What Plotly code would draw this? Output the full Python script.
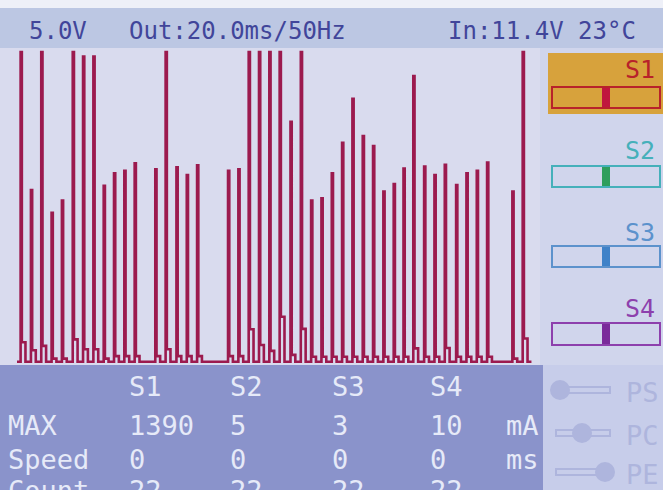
import plotly.graph_objects as go

# ---------------- data ----------------
# pulse start times (ms) in the 1000 ms capture window
pulse_t = [7, 27, 47, 67, 87, 108, 128, 148, 168, 188, 208, 228, 268, 288, 309,
           329, 349, 409, 429, 449, 469, 489, 509, 530, 550, 570, 590, 610, 630,
           650, 670, 690, 710, 730, 749, 768, 789, 809, 829, 851, 871, 891, 911,
           960, 980]
# pulse peak current (mA, display clips at 1000)
pulse_peak = [1000, 554, 1000, 481, 520, 1000, 985, 985, 568, 608, 616, 641, 621,
              1000, 628, 603, 634, 616, 621, 1000, 1000, 1000, 1000, 775, 1000,
              520, 528, 608, 707, 849, 729, 696, 549, 574, 624, 922, 630, 603,
              636, 570, 608, 616, 643, 549, 1000]
# residual current after each pulse (mA)
pulse_tail = [63, 37, 51, 10, 10, 72, 40, 40, 10, 18, 18, 18, 18, 40, 18, 18, 18,
              18, 18, 105, 54, 35, 145, 22, 106, 16, 16, 16, 16, 16, 16, 16, 16,
              16, 16, 43, 16, 16, 44, 16, 16, 16, 16, 10, 75]
capture_end = 997

header_left = "5.0V"
header_mid = "Out:20.0ms/50Hz"
header_right = "In:11.4V 23°C"

servos = ["S1", "S2", "S3", "S4"]
servo_pos = [0.5, 0.5, 0.5, 0.5]
row_labels = ["MAX", "Speed", "Count"]
max_ma = ["1390", "5", "3", "10"]
speed_ms = ["0", "0", "0", "0"]
count = ["22", "22", "22", "22"]
units = ["mA", "ms", ""]
modes = ["PS", "PC", "PE"]

# ---------------- geometry helpers ----------------
W, H = 663, 490
def px(x):
    return x / W
def py(y):
    return 1 - y / H

PULSE_W = 2.4
TAIL_W = 7.0

xs, ys = [0], [0]
for t, p, b in zip(pulse_t, pulse_peak, pulse_tail):
    xs += [t, t, t + PULSE_W, t + PULSE_W, t + PULSE_W + TAIL_W, t + PULSE_W + TAIL_W]
    ys += [0, p, p, b, b, 0]
xs.append(capture_end)
ys.append(0)

LINE = "#9c1a4e"
fig = go.Figure()
fig.add_trace(go.Scatter(x=xs, y=ys, mode="lines",
                         line=dict(color=LINE, width=2.6), hoverinfo="skip",
                         showlegend=False))

# x: t=0 at px 17, t=1000 at px 533 ; plot area px 0..540
sx = 516 / 1000.0
x_lo = -17 / sx
x_hi = (540 - 17) / sx
# y: 0 at px 361.7, 1000 at px 52 ; plot area px 48..365
sy = (361.7 - 52) / 1000.0
y_lo = -(365 - 361.7) / sy
y_hi = (361.7 - 48) / sy

fig.update_layout(
    width=W, height=H,
    margin=dict(l=0, r=0, t=0, b=0),
    paper_bgcolor="#d3d7ec",
    plot_bgcolor="#d9dbee",
    xaxis=dict(domain=[0, px(540)], range=[x_lo, x_hi], visible=False, fixedrange=True),
    yaxis=dict(domain=[py(365), py(48)], range=[y_lo, y_hi], visible=False, fixedrange=True),
    showlegend=False,
)

shapes = []
def rect(x0, y0, x1, y1, fill=None, line=None, lw=0, layer="below"):
    shapes.append(dict(type="rect", xref="paper", yref="paper",
                       x0=px(x0), x1=px(x1), y0=py(y1), y1=py(y0),
                       fillcolor=fill if fill else "rgba(0,0,0,0)",
                       line=dict(color=line if line else "rgba(0,0,0,0)", width=lw),
                       layer=layer))

# top white edge + header band
rect(0, 0, W, 8, fill="#eef0f8")
rect(0, 8, W, 48, fill="#bcc7e3")
# right panel
rect(540, 48, W, 365, fill="#d0d5ec")
# bottom panel
rect(0, 365, 543, H, fill="#8a93cb")
rect(543, 365, W, H, fill="#c7cdea")

# servo sliders on right
slider_cols = [("#b8222a", "#c0163e"), ("#45b0ba", "#2f9e5c"),
               ("#5c92cc", "#3f82c8"), ("#8d40ad", "#7a2a9a")]
label_y = [69, 150, 233, 308]
bar_y = [(87, 108), (166, 187), (246, 267), (323, 345)]
rect(548, 53, W, 114, fill="#d7a23c")
annotations = []
for i, s in enumerate(servos):
    lc, tc = slider_cols[i]
    y0, y1 = bar_y[i]
    rect(552, y0, 660, y1, fill=None, line=lc, lw=2, layer="above")
    cx = 552 + (660 - 552) * servo_pos[i]
    rect(cx - 4, y0 + 1, cx + 4, y1 - 1, fill=tc, layer="above")
    annotations.append(dict(text=s, x=px(657), y=py(label_y[i]), xref="paper", yref="paper",
                            xanchor="right", yanchor="middle", showarrow=False,
                            font=dict(family="DejaVu Sans Mono", size=25, color=lc)))

# faint mode icons bottom right
faint = "#aeb5dd"
mode_y = [390, 433, 472]
knob_x = [560, 582, 605]
for i, m in enumerate(modes):
    y = mode_y[i]
    rect(556, y - 3, 610, y + 3, fill=None, line=faint, lw=2)
    shapes.append(dict(type="circle", xref="paper", yref="paper",
                       x0=px(knob_x[i] - 10), x1=px(knob_x[i] + 10),
                       y0=py(y + 10), y1=py(y - 10), fillcolor=faint,
                       line=dict(width=0), layer="below"))
    annotations.append(dict(text=m, x=px(624), y=py(y + 2), xref="paper", yref="paper",
                            xanchor="left", yanchor="middle", showarrow=False,
                            font=dict(family="DejaVu Sans Mono", size=27, color=faint)))

# header text
HC = "#41459a"
for txt, x in [(header_left, 27), (header_mid, 127), (header_right, 446)]:
    annotations.append(dict(text=txt, x=px(x), y=py(31), xref="paper", yref="paper",
                            xanchor="left", yanchor="middle", showarrow=False,
                            font=dict(family="DejaVu Sans Mono", size=24, color=HC)))

# bottom table
TC = "#e6eaf8"
col_x = [127, 228, 330, 428]
row_y = [425, 459, 490]
tfont = dict(family="DejaVu Sans Mono", size=27, color=TC)
for i, s in enumerate(servos):
    annotations.append(dict(text=s, x=px(col_x[i]), y=py(386), xref="paper", yref="paper",
                            xanchor="left", yanchor="middle", showarrow=False, font=tfont))
for r, (lab, vals) in enumerate(zip(row_labels, [max_ma, speed_ms, count])):
    annotations.append(dict(text=lab, x=px(6), y=py(row_y[r]), xref="paper", yref="paper",
                            xanchor="left", yanchor="middle", showarrow=False, font=tfont))
    for i, v in enumerate(vals):
        annotations.append(dict(text=v, x=px(col_x[i]), y=py(row_y[r]), xref="paper",
                                yref="paper", xanchor="left", yanchor="middle",
                                showarrow=False, font=tfont))
    if units[r]:
        annotations.append(dict(text=units[r], x=px(541), y=py(row_y[r]), xref="paper",
                                yref="paper", xanchor="right", yanchor="middle",
                                showarrow=False, font=tfont))

fig.update_layout(shapes=shapes, annotations=annotations)
fig.write_html("out.html",
               config={"displayModeBar": False, "staticPlot": True},
               post_script="document.body.style.margin='0';document.body.style.overflow='hidden';")
